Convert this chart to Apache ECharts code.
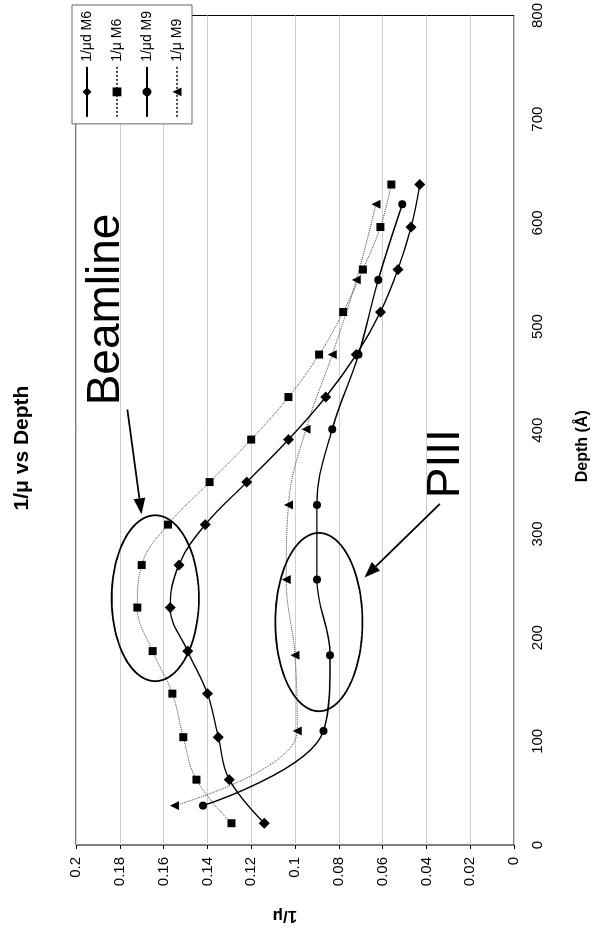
<!DOCTYPE html>
<html><head><meta charset="utf-8">
<script src="https://cdn.jsdelivr.net/npm/echarts@6/dist/echarts.min.js"></script>
<style>
html,body{margin:0;padding:0;width:596px;height:932px;overflow:hidden;background:#fff;}
#chart{position:absolute;left:0;top:0;width:932px;height:596px;transform-origin:0 0;transform:translate(0,932px) rotate(-90deg);}
</style></head><body><div id="chart"></div>
<script>
// ---- data ----
const chartTitle = '1/μ vs Depth';
const seriesNames = ['1/μd M6', '1/μ M6', '1/μd M9', '1/μ M9'];
const depthM6 = [21, 63, 104, 146, 187, 229, 270, 309, 350, 391, 432, 473, 514, 555, 596, 637];
const muD_M6 = [0.114, 0.130, 0.135, 0.140, 0.149, 0.157, 0.153, 0.141, 0.122, 0.103, 0.086, 0.072, 0.061, 0.053, 0.047, 0.043];
const mu_M6  = [0.129, 0.145, 0.151, 0.156, 0.165, 0.172, 0.170, 0.158, 0.139, 0.120, 0.103, 0.089, 0.078, 0.069, 0.061, 0.056];
const depthM9 = [38, 110, 183, 256, 328, 401, 473, 545, 618];
const muD_M9 = [0.142, 0.087, 0.084, 0.090, 0.090, 0.083, 0.071, 0.062, 0.051];
const mu_M9  = [0.155, 0.099, 0.100, 0.104, 0.103, 0.095, 0.083, 0.072, 0.063];
const depthMin = 0, depthMax = 800, depthStep = 100;
const muMin = 0, muMax = 0.2, muStep = 0.02;
// annotations (data coordinates)
const ellipses = [
  {depth: 238, mu: 0.1638, rDepth: 80, rMu: 0.0199},
  {depth: 215, mu: 0.0891, rDepth: 86, rMu: 0.0199}
];
const arrows = [
  {from: [420, 0.1765], to: [319, 0.1701]},
  {from: [329, 0.0339], to: [258, 0.0683]}
];
const notes = [
  {text: 'Beamline', depth: 424, mu: 0.186},
  {text: 'PIII', depth: 334.5, mu: 0.0308}
];

const FONT = 'Liberation Sans, Arial, sans-serif';
const chart = echarts.init(document.getElementById('chart'));

function pairs(ds, vs) { return ds.map((d, i) => [d, vs[i]]); }

const option = {
  animation: false,
  backgroundColor: '#fff',
  title: {
    text: chartTitle, left: 479, top: 7, textAlign: 'center',
    textStyle: {fontFamily: FONT, fontSize: 21, fontWeight: 'bold', color: '#000'}
  },
  legend: {
    orient: 'vertical', right: 5, top: 72,
    backgroundColor: '#fff', borderColor: '#666', borderWidth: 1,
    padding: [8, 6, 8, 6], itemGap: 16, itemWidth: 50, itemHeight: 11,
    textStyle: {fontFamily: FONT, fontSize: 14, color: '#000'},
    data: seriesNames
  },
  grid: {left: 85, right: 10, top: 76, bottom: 78, show: true, borderColor: '#000', borderWidth: 1, backgroundColor: 'transparent'},
  xAxis: {
    type: 'value', min: depthMin, max: depthMax, interval: depthStep,
    name: 'Depth (Å)', nameLocation: 'middle', nameGap: 61,
    nameTextStyle: {fontFamily: FONT, fontSize: 16, fontWeight: 'bold', color: '#000', padding: [0, 32, 0, 0]},
    axisLine: {show: false}, axisTick: {show: false},
    axisLabel: {fontFamily: FONT, fontSize: 15, color: '#000', margin: 16},
    splitLine: {show: false}
  },
  yAxis: {
    type: 'value', min: muMin, max: muMax, interval: muStep,
    name: '1/μ', nameLocation: 'middle', nameGap: 62, nameRotate: 90,
    nameTextStyle: {fontFamily: FONT, fontSize: 17, fontWeight: 'bold', color: '#000', padding: [0, 0, 0, 20]},
    axisLine: {show: false},
    axisTick: {show: true, length: 4, lineStyle: {color: '#000'}},
    axisLabel: {fontFamily: FONT, fontSize: 15, color: '#000', margin: 12},
    splitLine: {show: true, lineStyle: {color: '#cfcfcf', width: 1}}
  },
  series: [
    {name: seriesNames[0], type: 'line', smooth: 0.4, data: pairs(depthM6, muD_M6),
     symbol: 'diamond', symbolSize: 11, itemStyle: {color: '#000'}, lineStyle: {color: '#000', width: 1.4}, z: 4},
    {name: seriesNames[1], type: 'line', smooth: 0.4, data: pairs(depthM6, mu_M6),
     symbol: 'rect', symbolSize: 8, itemStyle: {color: '#000'}, lineStyle: {color: '#444', width: 1, type: 'dotted'}, z: 3},
    {name: seriesNames[2], type: 'line', smooth: 0.4, data: pairs(depthM9, muD_M9),
     symbol: 'circle', symbolSize: 8, itemStyle: {color: '#000'}, lineStyle: {color: '#000', width: 1.4}, z: 4},
    {name: seriesNames[3], type: 'line', smooth: 0.4, data: pairs(depthM9, mu_M9),
     symbol: 'triangle', symbolSize: 9, itemStyle: {color: '#000'}, lineStyle: {color: '#444', width: 1, type: 'dotted'}, z: 3}
  ]
};
chart.setOption(option);

function px(d, v) { return chart.convertToPixel({gridIndex: 0}, [d, v]); }
const gfx = [];
ellipses.forEach(e => {
  const c = px(e.depth, e.mu);
  const a = px(e.depth + e.rDepth, e.mu)[0] - c[0];
  const b = c[1] - px(e.depth, e.mu + e.rMu)[1];
  const pts = [];
  for (let k = 0; k < 120; k++) {
    const t = k / 120 * Math.PI * 2;
    pts.push([c[0] + a * Math.cos(t), c[1] + b * Math.sin(t)]);
  }
  gfx.push({type: 'polygon', shape: {points: pts}, style: {fill: 'none', stroke: '#000', lineWidth: 1.8}, z: 10});
});
arrows.forEach(ar => {
  const p0 = px(ar.from[0], ar.from[1]);
  const p1 = px(ar.to[0], ar.to[1]);
  const dx = p1[0] - p0[0], dy = p1[1] - p0[1];
  const L = Math.sqrt(dx * dx + dy * dy);
  const ux = dx / L, uy = dy / L;
  const hl = 16, hw = 6;
  const base = [p1[0] - ux * hl, p1[1] - uy * hl];
  gfx.push({type: 'line', shape: {x1: p0[0], y1: p0[1], x2: base[0], y2: base[1]}, style: {stroke: '#000', lineWidth: 1.8}, z: 10});
  gfx.push({type: 'polygon', shape: {points: [p1, [base[0] - uy * hw, base[1] + ux * hw], [base[0] + uy * hw, base[1] - ux * hw]]}, style: {fill: '#000'}, z: 10});
});
notes.forEach(n => {
  const p = px(n.depth, n.mu);
  gfx.push({type: 'text', x: p[0], y: p[1], style: {text: n.text, font: '46px ' + FONT, fill: '#000', textAlign: 'left', textVerticalAlign: 'middle'}, z: 10});
});
chart.setOption({graphic: gfx});
</script></body></html>
